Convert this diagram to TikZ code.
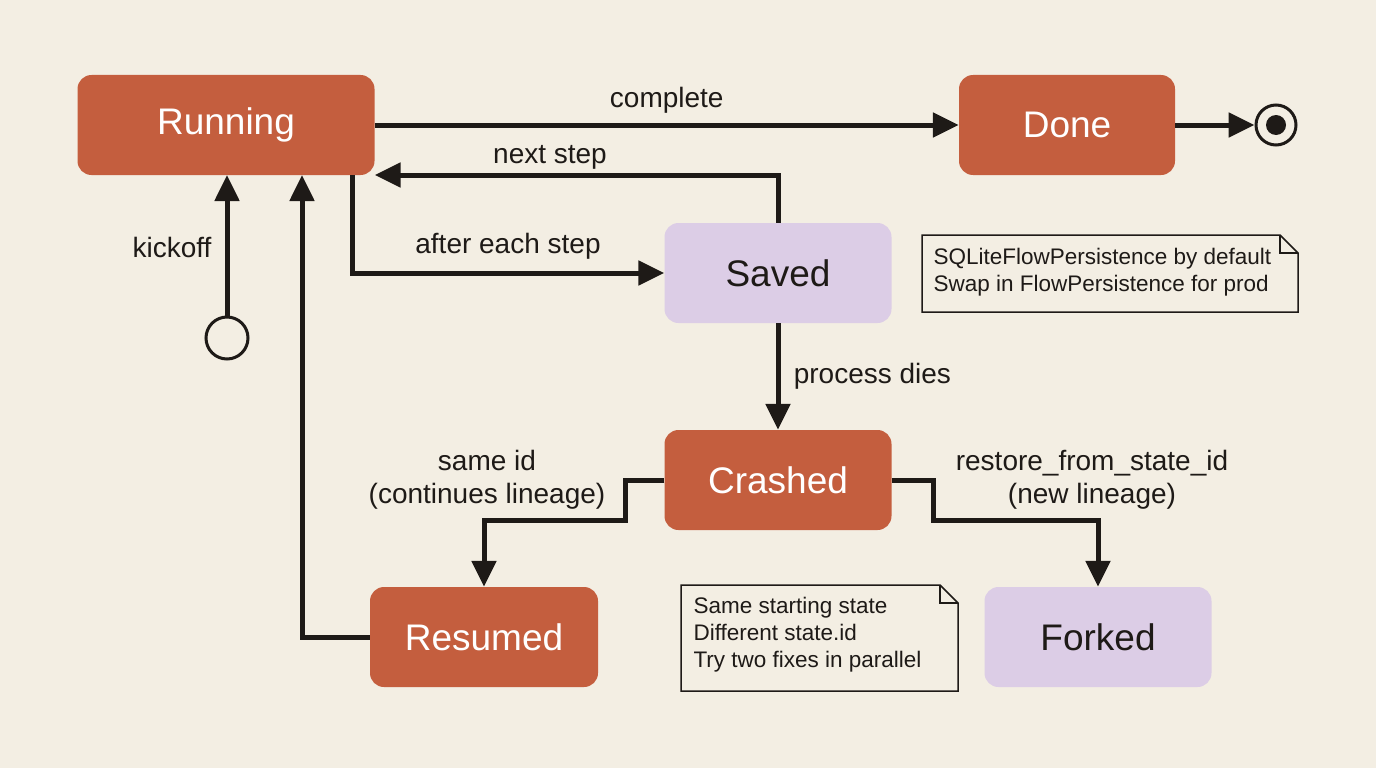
\documentclass[tikz,border=0pt]{standalone}
\usepackage{fontspec}
\setmainfont{Liberation Sans}
\usetikzlibrary{arrows.meta,shapes.misc}
\definecolor{bg}{HTML}{F3EEE3}
\definecolor{rust}{HTML}{C45E3E}
\definecolor{lav}{HTML}{DCCDE6}
\definecolor{ink}{HTML}{1E1A17}
\begin{document}
\begin{tikzpicture}[x=1pt,y=-1pt,
  st/.style={rounded corners=14pt,minimum height=100pt,font=\fontsize{37}{42}\selectfont,inner sep=0},
  hot/.style={st,fill=rust,text=white},
  cool/.style={st,fill=lav,text=ink},
  ar/.style={line width=5pt,draw=ink,-{Triangle[length=26pt,width=24pt]}},
  lb/.style={font=\fontsize{28}{33}\selectfont,text=ink,align=center},
  nt/.style={font=\fontsize{22.5}{27}\selectfont,text=ink,align=left}]
\fill[bg] (0,0) rectangle (1376,768);
\useasboundingbox (0,0) rectangle (1376,768);
\node[hot,minimum width=297pt] (run) at (226,125) {Running};
\node[hot,minimum width=216pt] (done) at (1067,125) {Done};
\node[cool,minimum width=227pt] (saved) at (778,273) {Saved};
\node[hot,minimum width=227pt] (crash) at (778,480) {Crashed};
\node[hot,minimum width=228pt] (res) at (484,637) {Resumed};
\node[cool,minimum width=227pt] (fork) at (1098,637) {Forked};
\node[circle,draw=ink,line width=3pt,minimum size=42pt,inner sep=0] (start) at (227,338) {};
\node[circle,draw=ink,line width=3pt,minimum size=40pt,inner sep=0] (end) at (1276,125) {};
\node[circle,fill=ink,minimum size=20pt,inner sep=0] (endin) at (1276,125) {};
% connectors
\draw[ar] (run.east) -- (done.west) node[lb,midway,above=6pt] {complete};
\draw[ar] (done.east) -- (end.west);
\draw[ar] (saved.north) |- (run.east|-0,175) coordinate (rb);
\node[lb] (ns) at (550,157) {next step};
\draw[ar] (352,175) coordinate (rs) |- (saved.west);
\node[lb] (aes) at (508,246) {after each step};
\draw[ar] (start.north) -- (227,175);
\node[lb] (ko) at (172,247) {kickoff};
\draw[ar] (saved.south) -- (crash.north) node[lb,midway,right=10pt] {process dies};
\draw[ar] (crash.west) -- (625,480) -- (625,520) -| (res.north);
\node[lb] (si) at (487,480) {same id\\(continues lineage)};
\draw[ar] (crash.east) -- (933,480) -- (933,520) -| (fork.north);
\node[lb] (rf) at (1092,480) {restore\_from\_state\_id\\(new lineage)};
\draw[ar] (res.west) -| (302,175);
% notes
\draw[ink,line width=1.5pt,fill=bg] (922,235) -- (1280,235) -- (1298,253) -- (1298,312) -- (922,312) -- cycle;
\draw[ink,line width=1.5pt] (1280,235) -- (1280,253) -- (1298,253);
\node[nt,anchor=north west] (n1) at (930,245) {SQLiteFlowPersistence by default\\Swap in FlowPersistence for prod};
\draw[ink,line width=1.5pt,fill=bg] (681,585) -- (940,585) -- (958,603) -- (958,691) -- (681,691) -- cycle;
\draw[ink,line width=1.5pt] (940,585) -- (940,603) -- (958,603);
\node[nt,anchor=north west] (n2) at (690,594) {Same starting state\\Different state.id\\Try two fixes in parallel};
\end{tikzpicture}
\end{document}
